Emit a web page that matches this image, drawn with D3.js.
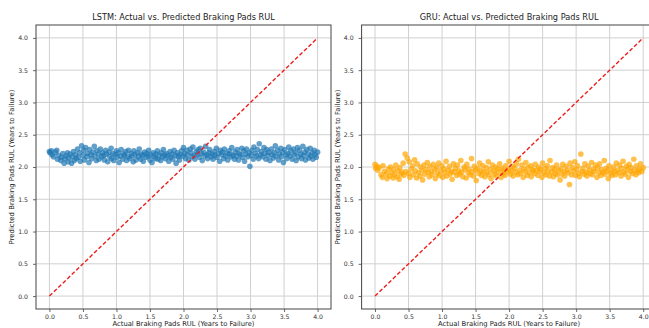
<!DOCTYPE html>
<html>
<head>
<meta charset="utf-8">
<script src="https://cdn.jsdelivr.net/npm/d3@7"></script>
<style>
  body { margin: 0; background: #fff; }
  svg { display: block; font-family: "DejaVu Sans", sans-serif; }
</style>
</head>
<body>
<svg id="chart" width="649" height="328"></svg>
<script>
// actual RUL of the test samples (same for both models)
const actualRUL = [
  0.00,0.01,0.03,0.04,0.06,0.09,0.11,0.12,0.14,0.17,0.18,0.20,0.22,0.23,0.25,0.27,0.28,0.29,0.31,0.33,0.34,0.36,0.37,0.39,0.40,
  0.42,0.43,0.45,0.46,0.48,0.50,0.51,0.52,0.54,0.56,0.57,0.59,0.60,0.62,0.63,0.65,0.67,0.68,0.70,0.71,0.73,0.74,0.76,0.78,0.79,
  0.81,0.82,0.84,0.85,0.87,0.89,0.90,0.92,0.93,0.95,0.96,0.98,1.00,1.01,1.03,1.04,1.06,1.07,1.09,1.11,1.12,1.14,1.15,1.17,1.18,
  1.20,1.22,1.23,1.25,1.26,1.28,1.29,1.31,1.33,1.34,1.36,1.37,1.39,1.40,1.42,1.44,1.45,1.47,1.48,1.50,1.51,1.53,1.55,1.56,1.58,
  1.59,1.61,1.62,1.64,1.66,1.67,1.69,1.70,1.72,1.73,1.75,1.77,1.78,1.80,1.81,1.83,1.84,1.86,1.88,1.89,1.91,1.92,1.94,1.95,1.97,
  1.99,2.00,2.02,2.03,2.05,2.06,2.08,2.10,2.11,2.13,2.14,2.16,2.17,2.19,2.21,2.22,2.24,2.25,2.27,2.28,2.30,2.32,2.33,2.35,2.36,
  2.38,2.39,2.41,2.43,2.44,2.46,2.47,2.49,2.50,2.52,2.54,2.55,2.57,2.58,2.60,2.61,2.63,2.65,2.66,2.68,2.69,2.71,2.72,2.74,2.76,
  2.77,2.79,2.80,2.82,2.83,2.85,2.87,2.88,2.90,2.91,2.93,2.94,2.96,2.98,2.99,3.01,3.02,3.04,3.05,3.07,3.09,3.10,3.12,3.13,3.15,
  3.16,3.18,3.20,3.21,3.23,3.24,3.26,3.27,3.29,3.31,3.32,3.34,3.35,3.37,3.38,3.40,3.42,3.43,3.45,3.46,3.48,3.49,3.51,3.53,3.54,
  3.56,3.57,3.59,3.60,3.62,3.64,3.65,3.67,3.68,3.70,3.71,3.73,3.75,3.76,3.78,3.79,3.81,3.82,3.84,3.86,3.87,3.89,3.90,3.92,3.93,
  3.95,3.96,3.98,4.00
];

const lstmPred = [
  2.24,2.22,2.25,2.19,2.16,2.23,2.26,2.12,2.18,2.10,2.15,2.21,2.06,2.13,2.17,2.22,2.08,2.14,2.20,2.06,2.16,2.24,2.10,2.19,2.13,
  2.28,2.15,2.22,2.09,2.33,2.18,2.26,2.11,2.30,2.16,2.21,2.07,2.27,2.19,2.13,2.23,2.32,2.17,2.10,2.25,2.20,2.12,2.28,2.16,2.22,
  2.18,2.11,2.26,2.20,2.08,2.23,2.16,2.29,2.13,2.21,2.10,2.19,2.25,2.15,2.22,2.07,2.17,2.27,2.12,2.20,2.18,2.24,2.10,2.16,2.26,
  2.13,2.21,2.17,2.08,2.25,2.19,2.11,2.22,2.16,2.28,2.12,2.20,2.18,2.09,2.23,2.15,2.21,2.17,2.26,2.11,2.19,2.07,2.22,2.16,2.13,
  2.20,2.25,2.12,2.18,2.10,2.22,2.16,2.27,2.19,2.13,2.21,2.17,2.09,2.24,2.15,2.20,2.12,2.26,2.18,2.06,2.22,2.16,2.11,2.19,2.25,
  2.17,2.30,2.21,2.13,2.26,2.19,2.11,2.28,2.22,2.16,2.31,2.18,2.12,2.24,2.20,2.27,2.15,2.29,2.21,2.10,2.23,2.17,2.32,2.19,2.13,
  2.22,2.27,2.16,2.20,2.12,2.24,2.18,2.29,2.15,2.21,2.09,2.26,2.19,2.23,2.13,2.28,2.17,2.21,2.11,2.25,2.20,2.16,2.30,2.18,2.12,
  2.23,2.17,2.27,2.11,2.21,2.19,2.29,2.15,2.25,2.09,2.20,2.28,2.16,2.22,2.01,2.18,2.26,2.12,2.31,2.21,2.17,2.27,2.13,2.36,2.19,
  2.24,2.16,2.30,2.21,2.12,2.27,2.18,2.23,2.10,2.28,2.19,2.14,2.22,2.33,2.17,2.26,2.11,2.20,2.29,2.16,2.23,2.07,2.27,2.19,2.13,
  2.21,2.31,2.17,2.25,2.12,2.28,2.19,2.22,2.10,2.30,2.16,2.26,2.20,2.13,2.32,2.18,2.23,2.11,2.27,2.20,2.14,2.29,2.17,2.22,2.12,
  2.26,2.19,2.15,2.23
];

const gruPred = [
  2.04,1.98,2.01,1.95,1.99,1.88,1.84,2.02,1.93,1.90,1.82,1.97,1.86,2.00,1.91,1.83,1.96,1.88,2.03,1.85,1.94,1.81,1.99,1.89,1.92,
  2.06,1.87,2.20,1.93,2.14,1.90,2.08,1.84,1.97,2.02,1.88,2.11,1.94,1.83,2.05,1.91,1.86,2.00,1.95,1.80,2.03,1.89,1.96,2.07,1.92,
  1.85,2.01,1.93,1.88,2.04,1.96,1.82,1.99,1.90,2.06,1.87,1.94,2.02,1.84,1.97,1.91,2.09,1.86,1.95,2.01,1.89,1.93,1.81,2.05,1.92,
  1.98,1.87,2.03,1.94,1.89,2.10,1.92,1.85,2.00,1.96,1.83,2.04,1.91,1.97,1.88,2.13,1.93,1.86,2.01,1.95,1.79,1.98,1.90,2.06,1.94,
  1.87,2.02,1.93,1.85,1.99,1.91,2.08,1.88,1.96,1.82,2.03,1.94,1.89,2.00,1.86,1.97,1.92,2.05,1.84,1.98,1.90,1.95,1.87,2.02,1.93,
  1.96,2.09,1.89,1.94,2.01,1.86,1.98,1.92,2.05,1.88,2.12,1.95,1.90,2.03,1.84,1.97,1.93,2.07,1.87,1.99,1.91,2.02,1.85,1.96,1.94,
  1.90,2.04,1.95,1.87,2.00,1.93,1.97,1.84,2.06,1.91,1.98,1.88,2.02,1.94,1.86,2.10,1.92,1.99,1.85,1.96,1.90,2.03,1.88,1.95,1.80,
  1.97,1.89,2.04,1.93,1.86,2.01,1.95,1.91,1.73,2.06,1.88,1.99,1.94,2.08,1.87,1.96,2.02,1.90,1.85,2.20,1.93,1.98,1.89,2.05,1.92,
  1.86,2.01,1.95,1.90,2.07,1.88,1.97,1.93,2.03,1.84,1.99,1.91,2.05,1.87,1.96,1.92,2.10,1.89,1.98,1.94,1.82,2.02,1.90,1.95,1.87,
  2.00,1.93,1.88,2.06,1.95,1.91,2.03,1.86,1.98,2.09,1.92,1.89,2.01,1.96,1.84,2.04,1.93,1.99,1.90,2.12,1.95,1.88,2.02,1.94,1.91,
  1.97,2.05,1.93,1.99
];

const tickValues = [0.0, 0.5, 1.0, 1.5, 2.0, 2.5, 3.0, 3.5, 4.0];
const idealLine = [0, 4];

const panels = [
  { title: 'LSTM: Actual vs. Predicted Braking Pads RUL', pred: lstmPred, color: '#1f77b4', left: 36 },
  { title: 'GRU: Actual vs. Predicted Braking Pads RUL', pred: gruPred, color: '#ffa500', left: 361.6 }
];

const svg = d3.select('#chart');
const plotW = 295, plotH = 284, plotTop = 25;

panels.forEach((p) => {
  const g = svg.append('g').attr('transform', `translate(${p.left},${plotTop})`);

  const x = d3.scaleLinear().domain([-0.2, 4.2]).range([0, plotW]);
  const y = d3.scaleLinear().domain([-0.2, 4.2]).range([plotH, 0]);

  // grid
  g.append('g').selectAll('line').data(tickValues).join('line')
    .attr('x1', (d) => x(d)).attr('x2', (d) => x(d))
    .attr('y1', 0).attr('y2', plotH)
    .attr('stroke', '#d0d0d0').attr('stroke-width', 1);
  g.append('g').selectAll('line').data(tickValues).join('line')
    .attr('y1', (d) => y(d)).attr('y2', (d) => y(d))
    .attr('x1', 0).attr('x2', plotW)
    .attr('stroke', '#d0d0d0').attr('stroke-width', 1);

  // points
  g.append('g').selectAll('circle').data(actualRUL).join('circle')
    .attr('cx', (d) => x(d))
    .attr('cy', (d, i) => y(p.pred[i]))
    .attr('r', 2.8)
    .attr('fill', p.color)
    .attr('fill-opacity', 0.7);

  // ideal line
  g.append('path')
    .datum(idealLine)
    .attr('fill', 'none')
    .attr('stroke', '#ee1c1c')
    .attr('stroke-width', 1.4)
    .attr('stroke-dasharray', '4,2.2')
    .attr('d', d3.line().x((d) => x(d)).y((d) => y(d)));

  // axes
  const fmt = d3.format('.1f');
  const xAxis = g.append('g').attr('transform', `translate(0,${plotH})`)
    .call(d3.axisBottom(x).tickValues(tickValues).tickFormat(fmt).tickSize(3).tickPadding(3));
  const yAxis = g.append('g')
    .call(d3.axisLeft(y).tickValues(tickValues).tickFormat(fmt).tickSize(3).tickPadding(5));
  [xAxis, yAxis].forEach((a) => {
    a.select('.domain').remove();
    a.selectAll('line').attr('stroke', '#444').attr('stroke-width', 0.8);
    a.selectAll('text').attr('fill', '#333').style('font-size', '6.2px')
      .style('font-family', '"DejaVu Sans", sans-serif');
  });

  // frame
  g.append('rect')
    .attr('width', plotW).attr('height', plotH)
    .attr('fill', 'none').attr('stroke', '#444').attr('stroke-width', 1);

  // title and labels
  g.append('text')
    .attr('x', plotW / 2).attr('y', -5)
    .attr('text-anchor', 'middle')
    .attr('fill', '#222')
    .style('font-size', '8.2px')
    .text(p.title);
  g.append('text')
    .attr('x', plotW / 2).attr('y', plotH + 17)
    .attr('text-anchor', 'middle')
    .attr('fill', '#222')
    .style('font-size', '6.8px')
    .text('Actual Braking Pads RUL (Years to Failure)');
  g.append('text')
    .attr('transform', `translate(-22,${plotH / 2}) rotate(-90)`)
    .attr('text-anchor', 'middle')
    .attr('fill', '#222')
    .style('font-size', '6.9px')
    .text('Predicted Braking Pads RUL (Years to Failure)');
});
</script>
</body>
</html>
